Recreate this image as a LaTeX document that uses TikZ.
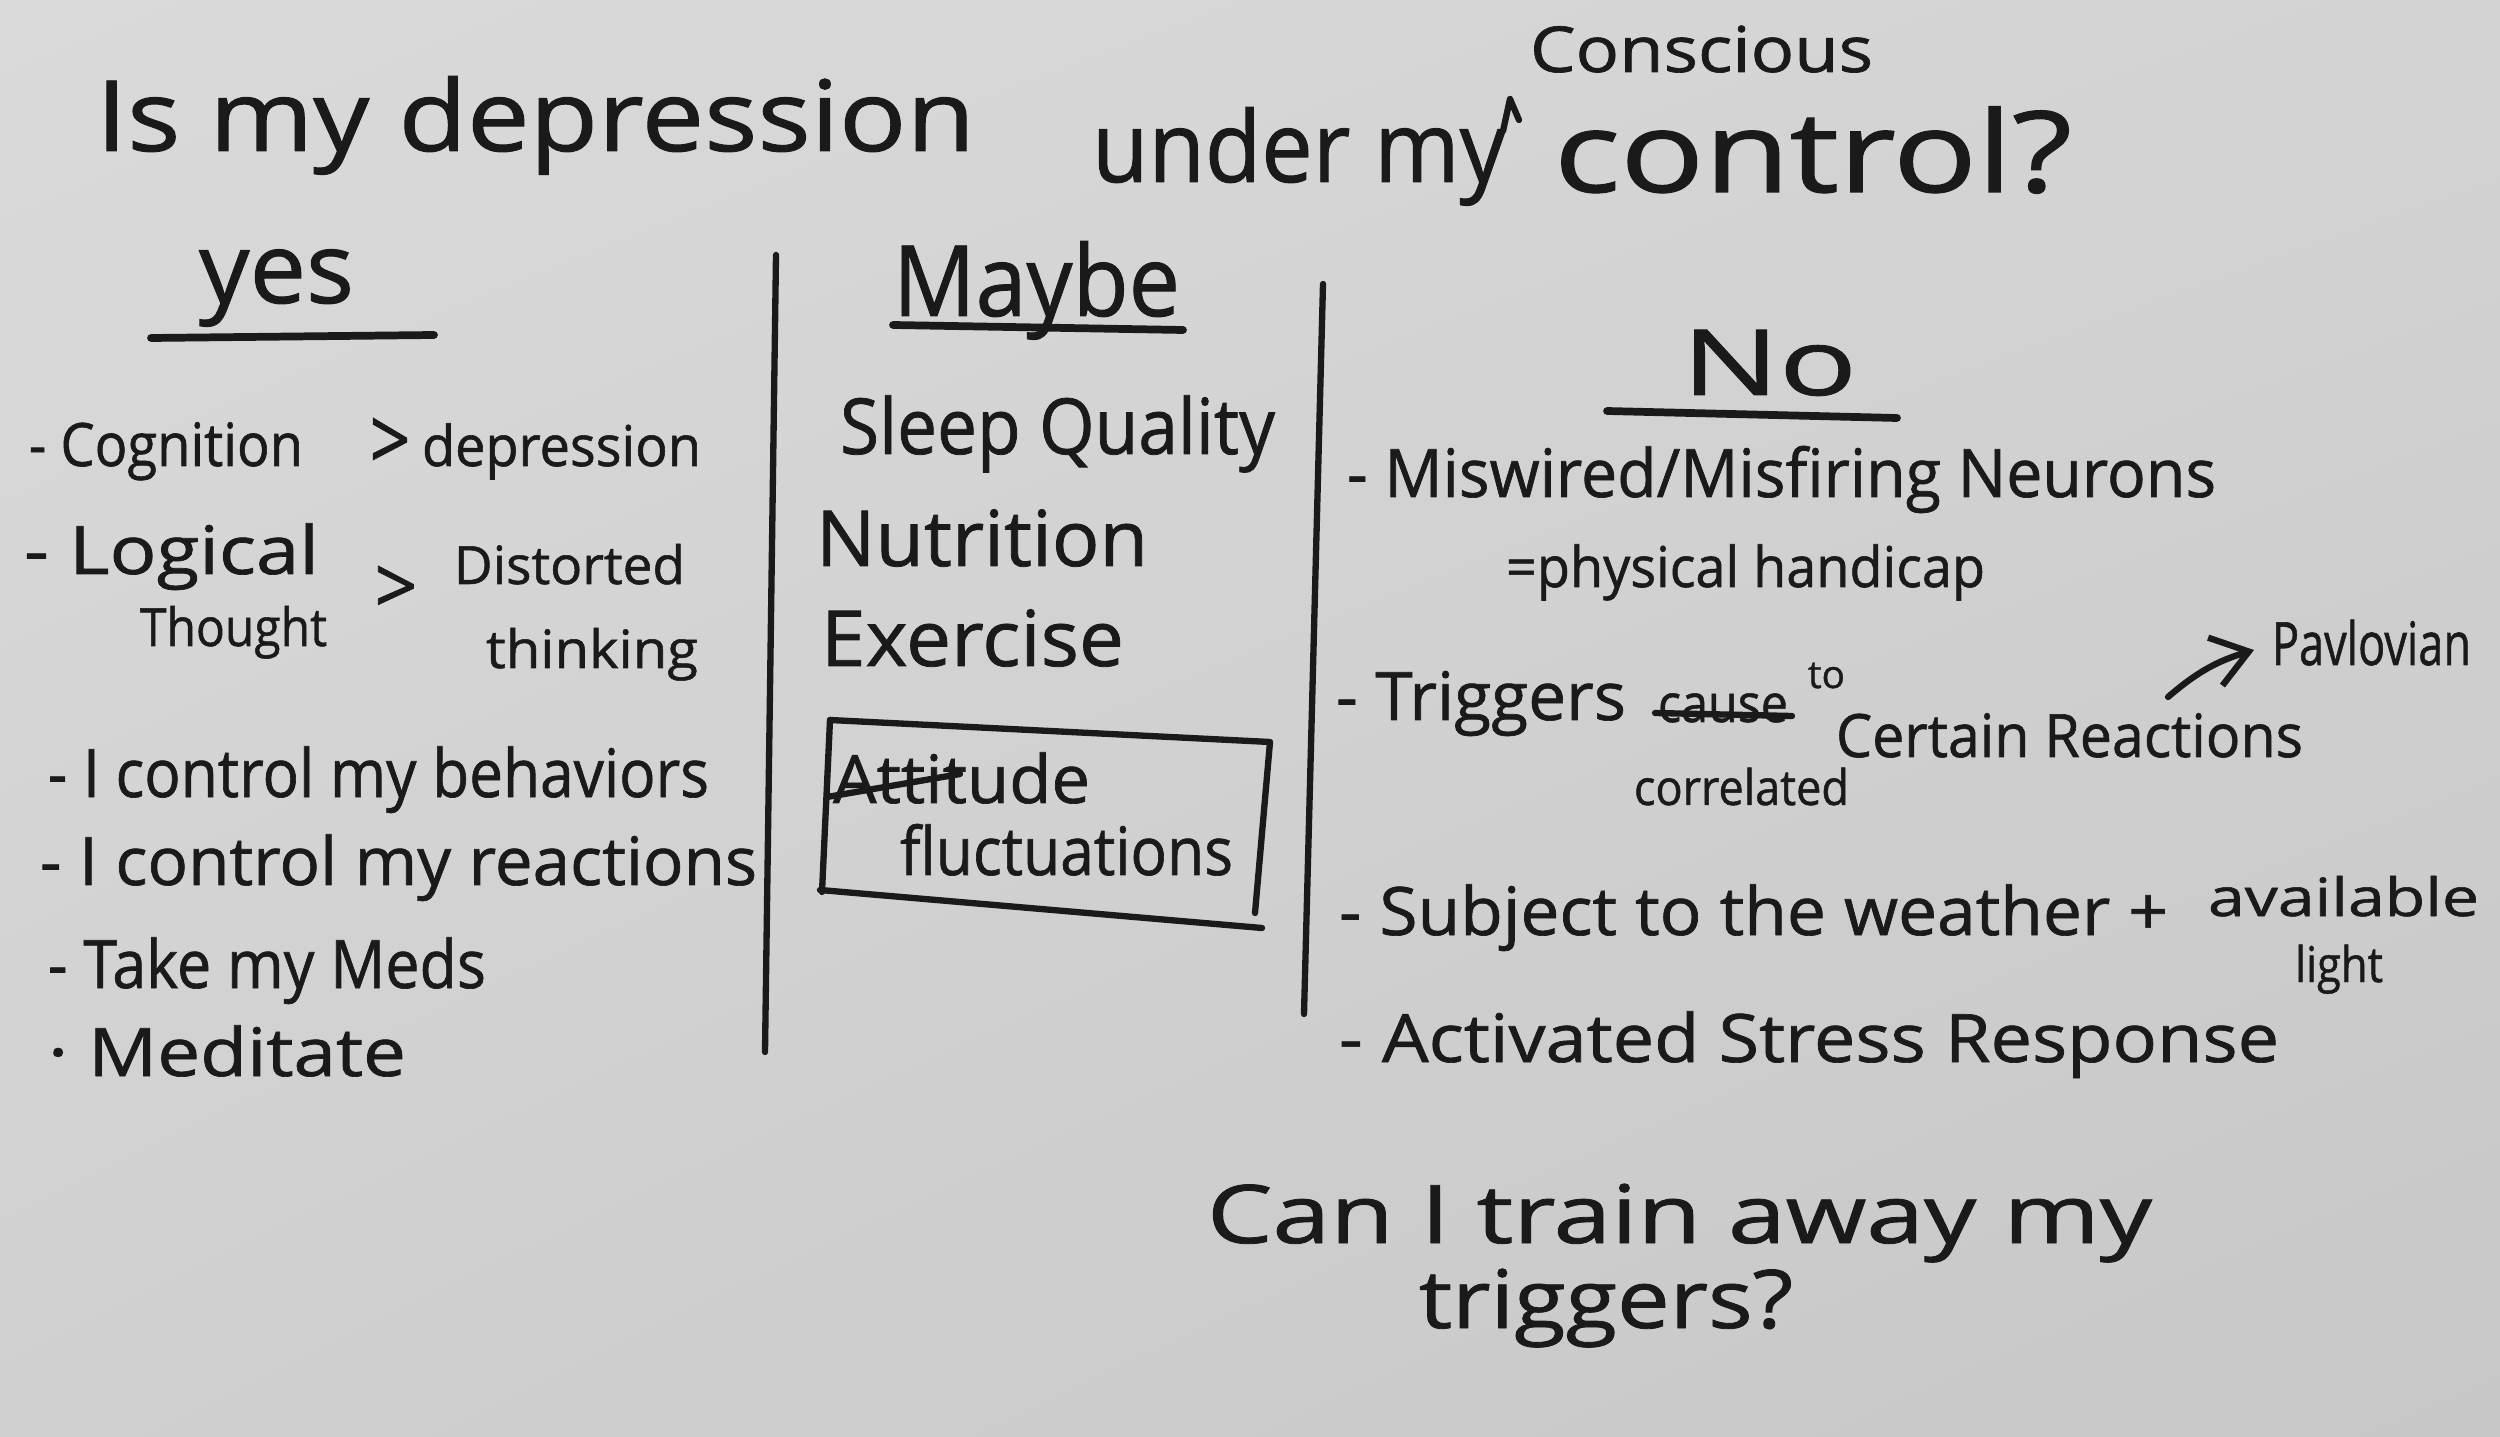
\documentclass[tikz,border=0pt]{standalone}
\usepackage{fontspec}
\setmainfont{Open Sans}[FakeBold=1]
\usetikzlibrary{arrows.meta,shadings}
\definecolor{ink}{HTML}{1A1A1A}
\definecolor{bgUL}{HTML}{DADADA}
\definecolor{bgUR}{HTML}{D3D3D3}
\definecolor{bgLL}{HTML}{D0D0D0}
\definecolor{bgLR}{HTML}{C7C7C7}
\newcommand{\fsz}[1]{\fontsize{#1}{#1}\selectfont}
\newcommand{\hwtext}[2]{\resizebox{#1}{\height}{#2}}
\begin{document}
\begin{tikzpicture}[x=0.1mm,y=-0.1mm,
  hw/.style={inner sep=0pt,outer sep=0pt,anchor=base west,text=ink},
  sym/.style={inner sep=0pt,outer sep=0pt,anchor=center,text=ink},
  pen/.style={draw=ink,line width=1.8pt,line cap=round,line join=round}]
\shade[upper left=bgUL,upper right=bgUR,lower left=bgLL,lower right=bgLR] (0,0) rectangle (2500,1437);
\useasboundingbox (0,0) rectangle (2500,1437);

% title
\node[hw] (t1) at (96,151) {\fsz{28}\hwtext{87.9mm}{Is my depression}};
\node[hw] (t2) at (1092,182) {\fsz{28}\hwtext{41.4mm}{under my}};
\node[hw] (t3) at (1554,192) {\fsz{32}\hwtext{51.8mm}{control?}};
\node[hw] (t4) at (1530,72) {\fsz{18}\hwtext{34.3mm}{Conscious}};
\draw[pen] (1503,131) -- (1510,99) -- (1519,120);

% headers
\node[hw] (yes) at (199,303) {\fsz{28}\hwtext{15.5mm}{yes}};
\draw[pen,line width=2.2pt] (151,338) -- (434,335);
\node[hw] (maybe) at (893,316) {\fsz{28}\hwtext{28.7mm}{Maybe}};
\draw[pen,line width=2.2pt] (893,325) -- (1183,330);
\node[hw] (no) at (1682,395) {\fsz{26}\hwtext{17.5mm}{No}};
\draw[pen,line width=2.2pt] (1607,411) -- (1897,418);

% column separators
\draw[pen] (776,255) -- (765,1052);
\draw[pen] (1323,284) -- (1304,1014);

% yes column
\node[hw] (cog) at (29,466) {\fsz{17}\hwtext{27.4mm}{- Cognition}};
\node[sym] (gt1) at (390,444) {\resizebox{4.1mm}{5.2mm}{>}};
\node[hw] (dep) at (422,466) {\fsz{16}\hwtext{27.9mm}{depression}};
\node[hw] (log) at (24,574) {\fsz{19}\hwtext{29.5mm}{- Logical}};
\node[hw] (tho) at (140,646) {\fsz{15}\hwtext{18.7mm}{Thought}};
\node[sym] (gt2) at (396,590) {\resizebox{4.3mm}{4.8mm}{>}};
\node[hw] (dis) at (454,584) {\fsz{15}\hwtext{23.1mm}{Distorted}};
\node[hw] (thi) at (486,668) {\fsz{15}\hwtext{21.2mm}{thinking}};
\node[hw] (beh) at (48,797) {\fsz{19}\hwtext{66.1mm}{- I control my behaviors}};
\node[hw] (rea) at (40,885) {\fsz{19}\hwtext{71.7mm}{- I control my reactions}};
\node[hw] (meds) at (48,988) {\fsz{19}\hwtext{43.8mm}{- Take my Meds}};
\node[hw] (medi) at (48,1076) {\fsz{19}\hwtext{35.8mm}{· Meditate}};

% maybe column
\node[hw] (sleep) at (840,454) {\fsz{22}\hwtext{43.5mm}{Sleep Quality}};
\node[hw] (nut) at (816,566) {\fsz{22}\hwtext{33.2mm}{Nutrition}};
\node[hw] (exe) at (821,666) {\fsz{22}\hwtext{30.3mm}{Exercise}};
\draw[pen] (830,720) -- (1270,742) -- (1255,913);
\draw[pen] (830,720) -- (822,892);
\draw[pen] (820,890) -- (1262,928);
\node[hw] (att) at (833,803) {\fsz{19}\hwtext{25.7mm}{Attitude}};
\draw[pen] (827,797) -- (960,774);
\node[hw] (fluc) at (900,875) {\fsz{19}\hwtext{33.3mm}{fluctuations}};

% no column
\node[hw] (mis) at (1347,497) {\fsz{19}\hwtext{86.9mm}{- Miswired/Misfiring Neurons}};
\node[hw] (phy) at (1506,587) {\fsz{16}\hwtext{47.9mm}{=physical handicap}};
\node[hw] (trig) at (1336,720) {\fsz{19}\hwtext{29.0mm}{- Triggers}};
\node[hw] (cause) at (1658,722) {\fsz{15}\hwtext{13.0mm}{cause}};
\draw[pen] (1655,713) -- (1792,716);
\node[hw] (to) at (1808,688) {\fsz{11}to};
\node[hw] (cert) at (1836,757) {\fsz{17}\hwtext{46.7mm}{Certain Reactions}};
\node[hw] (corr) at (1634,805) {\fsz{14}\hwtext{21.5mm}{correlated}};
\node[hw] (pav) at (2272,665) {\fsz{17}\hwtext{19.9mm}{Pavlovian}};
\coordinate (arrS) at (2168,697);
\coordinate (arrE) at (2254,650);
\draw[pen,-{Straight Barb[length=3.5mm,width=5mm]}] (arrS) to[bend left=12] (arrE);
\node[hw] (sub) at (1339,935) {\fsz{19}\hwtext{82.9mm}{- Subject to the weather +}};
\node[hw] (ava) at (2208,916) {\fsz{15}\hwtext{27.1mm}{available}};
\node[hw] (lig) at (2295,982) {\fsz{14}\hwtext{8.8mm}{light}};
\node[hw] (act) at (1339,1062) {\fsz{19}\hwtext{94.0mm}{- Activated Stress Response}};

% bottom question
\node[hw] (can) at (1207,1243) {\fsz{23}\hwtext{94.5mm}{Can I train away my}};
\node[hw] (trg) at (1419,1328) {\fsz{23}\hwtext{37.4mm}{triggers?}};
\end{tikzpicture}
\end{document}
